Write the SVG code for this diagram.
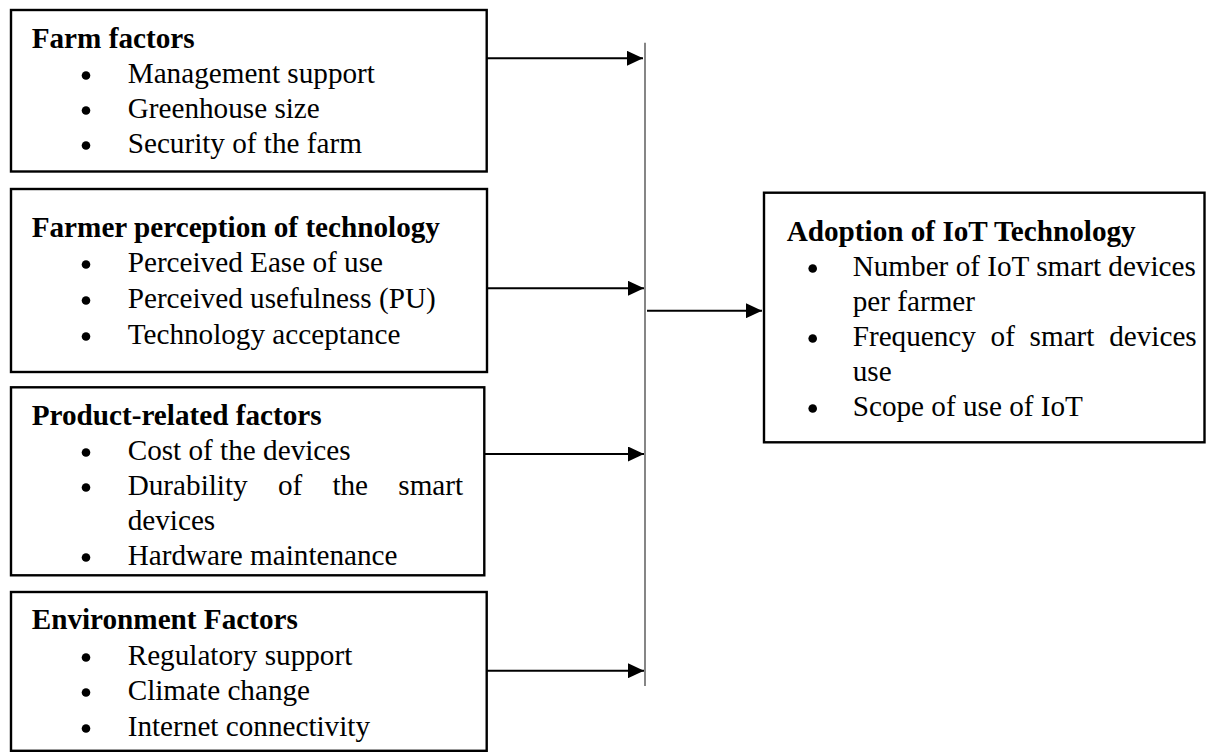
<svg xmlns="http://www.w3.org/2000/svg" width="1206" height="752" viewBox="0 0 1206 752">
  <style>
    .box { fill: #ffffff; stroke: #000000; stroke-width: 2.4; }
    .dot { fill: #000000; }
    .t { font-family: "Liberation Serif", "Times New Roman", serif; font-size: 29.2px; fill: #000000; }
    .h { font-weight: bold; }
    .link { stroke: #000000; stroke-width: 2; fill: none; marker-end: url(#head); }
    .bus { stroke: #444444; stroke-width: 1.3; fill: none; }
  </style>
  <defs>
    <marker id="head" markerUnits="userSpaceOnUse" markerWidth="16" markerHeight="15" refX="16" refY="7.5" orient="auto">
      <path d="M0,0 L16,7.5 L0,15 Z" fill="#000000"/>
    </marker>
  </defs>
  <rect width="1206" height="752" fill="#ffffff"/>

  <!-- connectors: four inputs onto the collector bar, one output to the adoption box -->
  <g id="connectors">
    <line class="bus" x1="645" y1="42.7" x2="645" y2="686"/>
    <line class="link" x1="487" y1="58.3" x2="643" y2="58.3"/>
    <line class="link" x1="487" y1="288.3" x2="644" y2="288.3"/>
    <line class="link" x1="485" y1="454" x2="644" y2="454"/>
    <line class="link" x1="487" y1="670.7" x2="644" y2="670.7"/>
    <line class="link" x1="647" y1="310.7" x2="762" y2="310.7"/>
  </g>

  <!-- farm factors -->
  <g id="farm-factors">
    <rect class="box" x="11" y="10" width="475.7" height="161.5"/>
    <text class="t h" x="31.7" y="48">Farm factors</text>
    <circle class="dot" cx="86" cy="75.5" r="4.3"/>
    <text class="t" x="127.7" y="83">Management support</text>
    <circle class="dot" cx="86" cy="110.5" r="4.3"/>
    <text class="t" x="127.7" y="118">Greenhouse size</text>
    <circle class="dot" cx="86" cy="145.5" r="4.3"/>
    <text class="t" x="127.7" y="153">Security of the farm</text>
  </g>

  <!-- farmer perception of technology -->
  <g id="farmer-perception">
    <rect class="box" x="11" y="189" width="476" height="183"/>
    <text class="t h" x="31.7" y="237">Farmer perception of technology</text>
    <circle class="dot" cx="86" cy="264.5" r="4.3"/>
    <text class="t" x="127.7" y="272">Perceived Ease of use</text>
    <circle class="dot" cx="86" cy="300.5" r="4.3"/>
    <text class="t" x="127.7" y="308">Perceived usefulness (PU)</text>
    <circle class="dot" cx="86" cy="336.5" r="4.3"/>
    <text class="t" x="127.7" y="344">Technology acceptance</text>
  </g>

  <!-- product-related factors -->
  <g id="product-factors">
    <rect class="box" x="11" y="387.3" width="473.3" height="188"/>
    <text class="t h" x="31.7" y="425">Product-related factors</text>
    <circle class="dot" cx="86" cy="452.5" r="4.3"/>
    <text class="t" x="127.7" y="460">Cost of the devices</text>
    <circle class="dot" cx="86" cy="487.5" r="4.3"/>
    <text class="t" y="495"><tspan x="127.7">Durability</tspan><tspan x="277.9">of</tspan><tspan x="332.4">the</tspan><tspan x="398.3">smart</tspan></text>
    <text class="t" x="127.7" y="530">devices</text>
    <circle class="dot" cx="86" cy="557.5" r="4.3"/>
    <text class="t" x="127.7" y="565">Hardware maintenance</text>
  </g>

  <!-- environment factors -->
  <g id="environment-factors">
    <rect class="box" x="11" y="592" width="475.7" height="158.8"/>
    <text class="t h" x="31.7" y="629">Environment Factors</text>
    <circle class="dot" cx="86" cy="657.5" r="4.3"/>
    <text class="t" x="127.7" y="665">Regulatory support</text>
    <circle class="dot" cx="86" cy="692.5" r="4.3"/>
    <text class="t" x="127.7" y="700">Climate change</text>
    <circle class="dot" cx="86" cy="728.5" r="4.3"/>
    <text class="t" x="127.7" y="736">Internet connectivity</text>
  </g>

  <!-- adoption of IoT technology -->
  <g id="iot-adoption">
    <rect class="box" x="764" y="192.7" width="440.5" height="249.6"/>
    <text class="t h" x="786.7" y="241">Adoption of IoT Technology</text>
    <circle class="dot" cx="812.7" cy="268.5" r="4.3"/>
    <text class="t" x="852.7" y="276">Number of IoT smart devices</text>
    <text class="t" x="852.7" y="311">per farmer</text>
    <circle class="dot" cx="812.7" cy="338.5" r="4.3"/>
    <text class="t" y="346"><tspan x="852.7">Frequency</tspan><tspan x="990.6">of</tspan><tspan x="1029.6">smart</tspan><tspan x="1109.2">devices</tspan></text>
    <text class="t" x="852.7" y="381">use</text>
    <circle class="dot" cx="812.7" cy="408.5" r="4.3"/>
    <text class="t" x="852.7" y="416">Scope of use of IoT</text>
  </g>
</svg>
